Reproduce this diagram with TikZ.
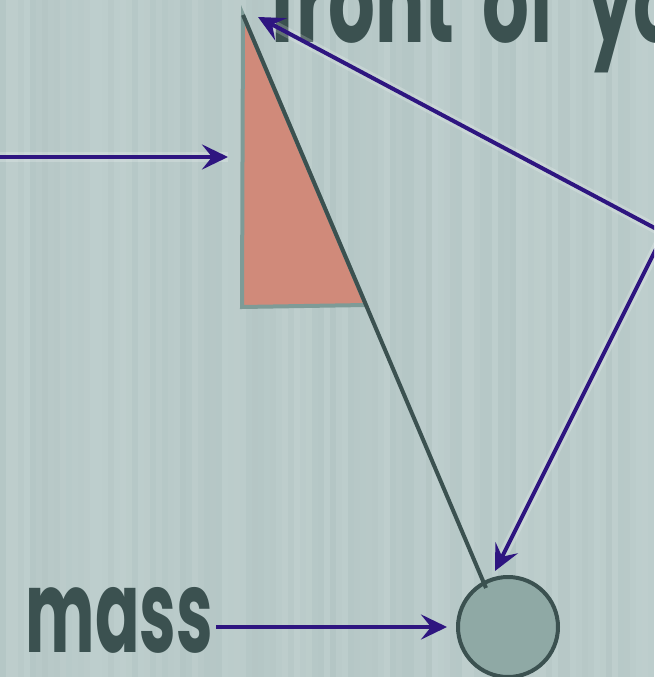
\documentclass[tikz,border=0pt]{standalone}
\usepackage{fontspec}
\newfontfamily\labfont{Poppins}
\usetikzlibrary{arrows.meta}
\definecolor{bgA}{HTML}{B4C6C5}
\definecolor{bgB}{HTML}{C5D4D3}
\definecolor{ink}{HTML}{3B5150}
\definecolor{arr}{HTML}{2E1580}
\definecolor{salmon}{HTML}{D08A7A}
\definecolor{tri}{HTML}{7E9B97}
\definecolor{bobfill}{HTML}{8FA9A5}
\begin{document}
\begin{tikzpicture}[x=1pt,y=-1pt,
  arrowline/.style={draw=arr, line width=4pt, -{Stealth[length=26pt,width=25pt,inset=10pt]}},
  halo/.style={draw=white, opacity=0.2, line width=10pt},
  biglabel/.style={text=ink, font=\labfont\bfseries\fontsize{115}{115}\selectfont, inner sep=0pt}]
\useasboundingbox (0,0) rectangle (654,677);
\clip (0,0) rectangle (654,677);
% background with faint vertical stripes
\fill[bgB] (0,0) rectangle (654,677);
\pgfmathsetseed{7}
\foreach \x in {0,6,...,648}{
  \pgfmathsetmacro\s{int(40+rnd*60)}
  \fill[bgA!\s!bgB] (\x,0) rectangle (\x+6,677);
}
% named points
\coordinate (pivot) at (243,15);
\coordinate (strend) at (486,588);
\coordinate (tribl) at (242,307);
\coordinate (tribr) at (366,305);
\coordinate (L) at (-5,157);
\coordinate (Ltip) at (228,157);
\coordinate (F) at (664,233);
\coordinate (T1) at (258,17);
\coordinate (T2) at (495,571);
% triangle (angle wedge)
\filldraw[fill=salmon, draw=tri, line width=4pt, line join=miter] (pivot) -- (tribl) -- (tribr) -- cycle;
% bob
\node[circle, draw=ink, fill=bobfill, line width=4pt, minimum size=100pt, inner sep=0pt] (bobn) at (508,627) {};
% string
\draw[ink, line width=4pt] (pivot) -- (strend);
% texts
\node[biglabel, anchor=base west] (toptext) at (270,43) {\scalebox{0.64}[1]{front\hspace{20pt} of\hspace{24pt} you}};
\node[biglabel, anchor=base east] (mass) at (213,652) {\scalebox{0.57}[1]{mass}};
% arrows
\draw[halo] (L) -- (Ltip);
\draw[arrowline] (L) -- (Ltip);
\draw[halo, shorten >=10pt] (F) -- (T1);
\draw[arrowline] (F) -- (T1);
\draw[halo, shorten >=10pt] (F) -- (T2);
\draw[arrowline] (F) -- (T2);
\draw[arrowline, shorten <=3pt, shorten >=9pt] (mass.east |- bobn.west) -- (bobn.west);
\end{tikzpicture}
\end{document}
